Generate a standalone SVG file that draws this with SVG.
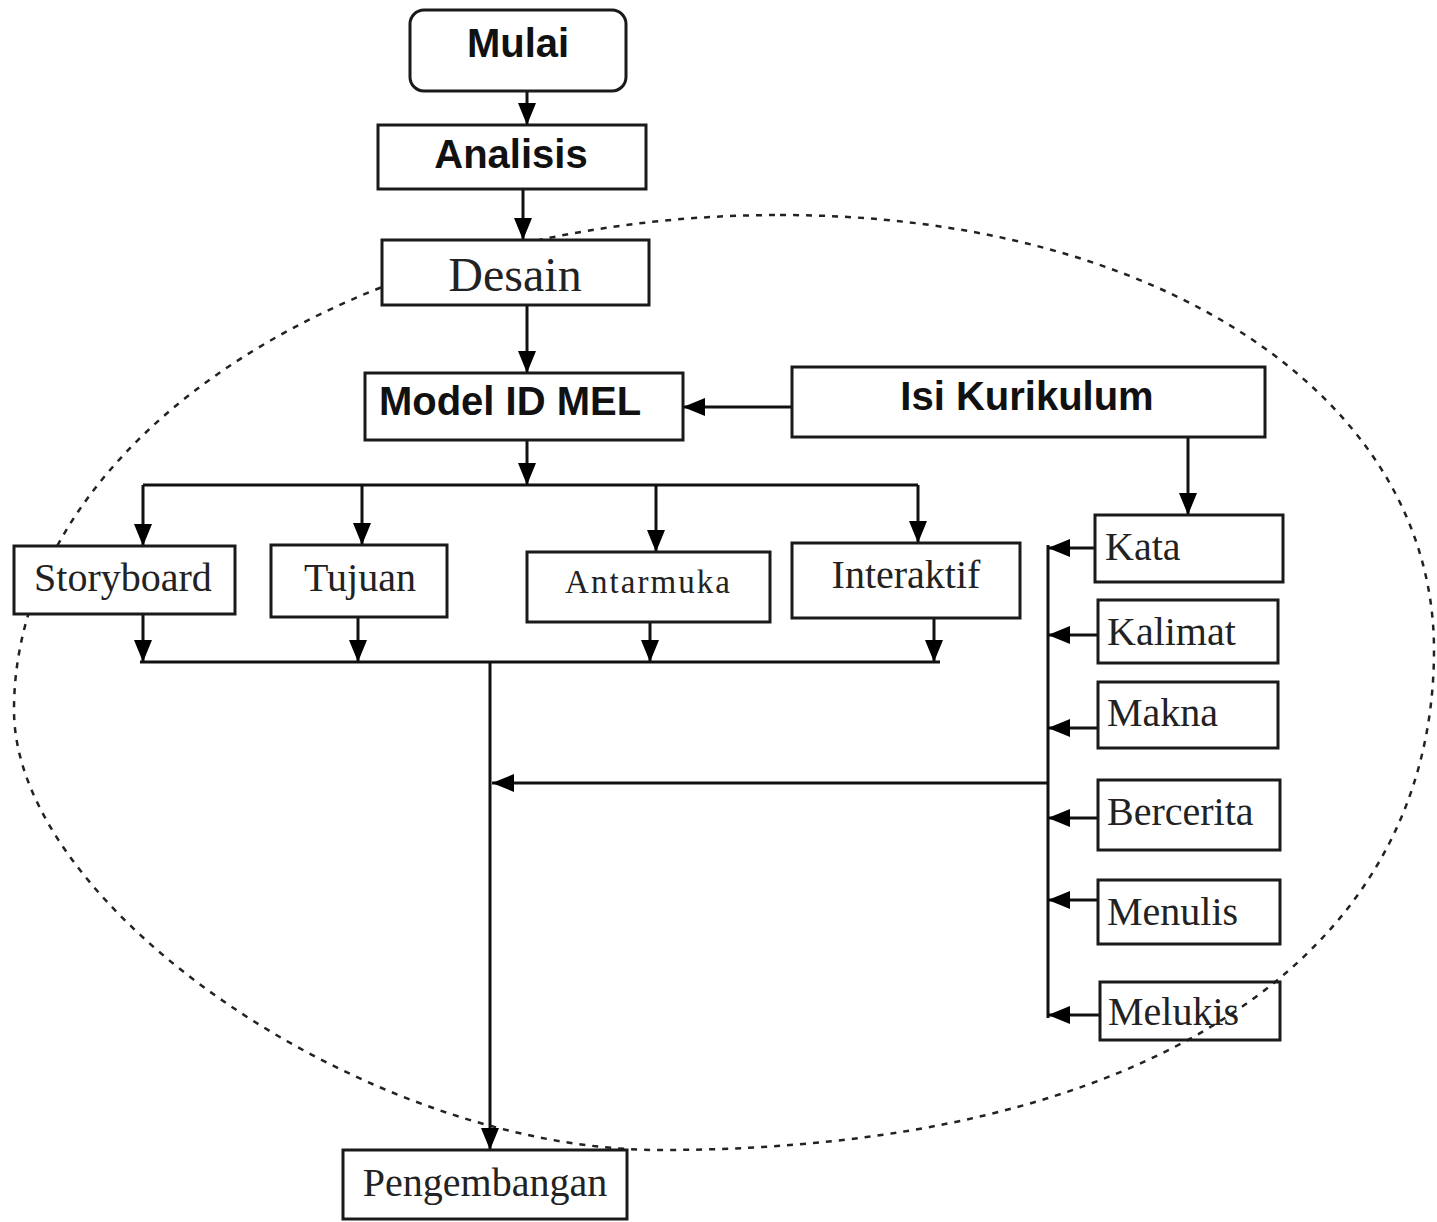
<svg xmlns="http://www.w3.org/2000/svg" width="1437" height="1222" viewBox="0 0 1437 1222">
<style>
.box{fill:#fff;stroke:#1a1a1a;stroke-width:3}
.sans{font-family:"Liberation Sans",Arial,sans-serif;font-weight:bold;fill:#111}
.serif{font-family:"Liberation Serif","Times New Roman",serif;fill:#222}
.c{fill:none;stroke:#111;stroke-width:3}
.a{marker-end:url(#ah)}
.ell{fill:none;stroke:#222;stroke-width:2.5;stroke-dasharray:6 7}
</style>
<defs>
<marker id="ah" viewBox="0 0 22 18" refX="22" refY="9" markerWidth="22" markerHeight="18" markerUnits="userSpaceOnUse" orient="auto">
<path d="M0,0 L22,9 L0,18 z" fill="#000"/>
</marker>
</defs>
<rect width="1437" height="1222" fill="#fff"/>
<path id="boundary" class="ell" d="M780,215 C1161,215 1434,398 1434,650 C1434,960 1142,1150 660,1150 C369,1150 14,908 14,710 C14,437 357,215 780,215 Z"/>
<g id="connectors">
<path class="c a" d="M527,92 V125"/>
<path class="c a" d="M523,190 V240"/>
<path class="c a" d="M527,305 V373"/>
<path class="c a" d="M792,407 H683"/>
<path class="c a" d="M527,440 V485"/>
<path class="c" d="M143,485 H918"/>
<path class="c a" d="M143,485 V546"/>
<path class="c a" d="M362,485 V545"/>
<path class="c a" d="M656,485 V552"/>
<path class="c a" d="M918,485 V543"/>
<path class="c a" d="M143,614 V662"/>
<path class="c a" d="M358,617 V662"/>
<path class="c a" d="M650,622 V662"/>
<path class="c a" d="M934,618 V662"/>
<path class="c" d="M140,662 H940"/>
<path class="c a" d="M490,662 V1150"/>
<path class="c a" d="M1188,437 V515"/>
<path class="c" d="M1048,545 V1018"/>
<path class="c a" d="M1095,548 H1048"/>
<path class="c a" d="M1098,635 H1048"/>
<path class="c a" d="M1098,728 H1048"/>
<path class="c a" d="M1098,818 H1048"/>
<path class="c a" d="M1098,900 H1048"/>
<path class="c a" d="M1100,1015 H1048"/>
<path class="c a" d="M1048,783 H492"/>
</g>
<g id="mulai"><rect class="box" x="410" y="10" width="216" height="81" rx="14"/><text class="sans" x="518" y="57" font-size="40" text-anchor="middle">Mulai</text></g>
<g id="analisis"><rect class="box" x="378" y="125" width="268" height="64"/><text class="sans" x="511" y="168" font-size="40" text-anchor="middle">Analisis</text></g>
<g id="desain"><rect class="box" x="382" y="240" width="267" height="65"/><text class="serif" x="515" y="291" font-size="48" text-anchor="middle">Desain</text></g>
<g id="model"><rect class="box" x="365" y="373" width="318" height="67"/><text class="sans" x="510" y="415" font-size="40" text-anchor="middle">Model ID MEL</text></g>
<g id="isi"><rect class="box" x="792" y="367" width="473" height="70"/><text class="sans" x="1027" y="410" font-size="40" text-anchor="middle">Isi Kurikulum</text></g>
<g id="storyboard"><rect class="box" x="14" y="546" width="221" height="68"/><text class="serif" x="123" y="591" font-size="40" text-anchor="middle">Storyboard</text></g>
<g id="tujuan"><rect class="box" x="271" y="545" width="176" height="72"/><text class="serif" x="360" y="591" font-size="40" text-anchor="middle">Tujuan</text></g>
<g id="antarmuka"><rect class="box" x="527" y="552" width="243" height="70"/><text class="serif" x="565" y="593" font-size="33" textLength="165" lengthAdjust="spacing">Antarmuka</text></g>
<g id="interaktif"><rect class="box" x="792" y="543" width="228" height="75"/><text class="serif" x="906" y="588" font-size="40" text-anchor="middle">Interaktif</text></g>
<g id="kata"><rect class="box" x="1095" y="515" width="188" height="67"/><text class="serif" x="1105" y="560" font-size="40">Kata</text></g>
<g id="kalimat"><rect class="box" x="1098" y="600" width="180" height="63"/><text class="serif" x="1107" y="645" font-size="40">Kalimat</text></g>
<g id="makna"><rect class="box" x="1098" y="682" width="180" height="66"/><text class="serif" x="1107" y="726" font-size="40">Makna</text></g>
<g id="bercerita"><rect class="box" x="1098" y="780" width="182" height="70"/><text class="serif" x="1107" y="825" font-size="40">Bercerita</text></g>
<g id="menulis"><rect class="box" x="1098" y="880" width="182" height="64"/><text class="serif" x="1107" y="925" font-size="40">Menulis</text></g>
<g id="melukis"><rect class="box" x="1100" y="982" width="180" height="58" style="fill:none"/><text class="serif" x="1108" y="1025" font-size="40">Melukis</text></g>
<g id="pengembangan"><rect class="box" x="343" y="1150" width="284" height="69"/><text class="serif" x="485" y="1196" font-size="40" text-anchor="middle">Pengembangan</text></g>
</svg>
